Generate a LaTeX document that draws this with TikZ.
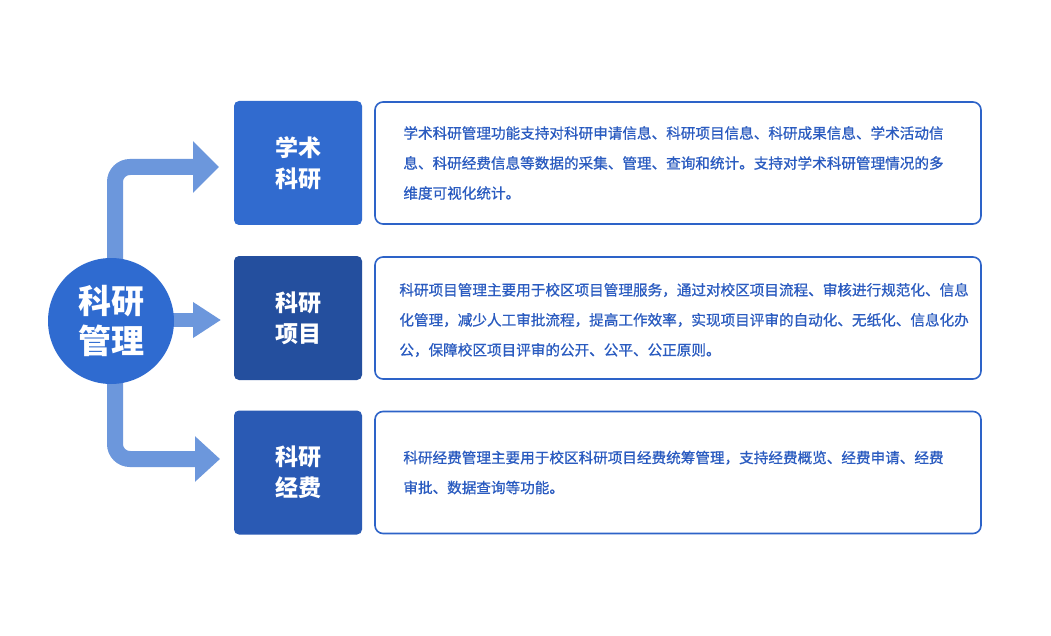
\documentclass[tikz,border=0pt]{standalone}
\usepackage{fontspec}
\usetikzlibrary{arrows.meta}
\newfontfamily\cjk{Noto Sans CJK SC}
\newfontfamily\cjkbody{Noto Sans CJK SC}[FakeBold=0.8]
\definecolor{circblue}{HTML}{2F6BD0}
\definecolor{boxA}{HTML}{316BCF}
\definecolor{boxB}{HTML}{244F9E}
\definecolor{boxC}{HTML}{2A5AB4}
\definecolor{arrowblue}{HTML}{6C97DC}
\definecolor{frameblue}{HTML}{2D63C8}
\definecolor{textblue}{HTML}{2A5BC0}
\pgfdeclarelayer{bg}
\pgfsetlayers{bg,main}
\begin{document}
\begin{tikzpicture}[x=1pt,y=-1pt,
  titlebox/.style={minimum width=128pt,minimum height=124pt,rounded corners=5pt,inner sep=0pt,text=white,font=\cjk\bfseries\fontsize{23}{31}\selectfont,align=center},
  descbox/.style={draw=frameblue,line width=1.6pt,rounded corners=8pt,fill=white,minimum width=606pt,minimum height=122pt,inner sep=0pt},
  desc/.style={text=textblue,font=\cjkbody\fontsize{14.6}{30}\selectfont,align=left,anchor=west,inner sep=0pt},
  shaft/.style={draw=arrowblue,line width=16pt,rounded corners=15pt}]
\useasboundingbox (0,0) rectangle (1051,636);

\node[circle,fill=circblue,minimum size=126pt,inner sep=0pt,text=white,font=\cjk\bfseries\fontsize{33}{40}\selectfont,align=center] (c) at (111,321) {科研\\管理};

\node[titlebox,fill=boxA] (tA) at (298,163) {学术\\科研};
\node[titlebox,fill=boxB] (tB) at (298,318) {科研\\项目};
\node[titlebox,fill=boxC] (tC) at (298,472.5) {科研\\经费};

\node[descbox] (bA) at (678,163) {};
\node[descbox] (bB) at (678,318) {};
\node[descbox] (bC) at (678,472.5) {};

\node[desc] (dA) at ([xshift=29pt]bA.west) {学术科研管理功能支持对科研申请信息、科研项目信息、科研成果信息、学术活动信\\息、科研经费信息等数据的采集、管理、查询和统计。支持对学术科研管理情况的多\\维度可视化统计。};
\node[desc] (dB) at ([xshift=25pt,yshift=-2pt]bB.west) {科研项目管理主要用于校区项目管理服务，通过对校区项目流程、审核进行规范化、信息\\化管理，减少人工审批流程，提高工作效率，实现项目评审的自动化、无纸化、信息化办\\公，保障校区项目评审的公开、公平、公正原则。};
\node[desc] (dC) at ([xshift=29pt]bC.west) {科研经费管理主要用于校区科研项目经费统筹管理，支持经费概览、经费申请、经费\\审批、数据查询等功能。};

\coordinate (tipA) at (219,167);
\coordinate (tipB) at (221,320);
\coordinate (tipC) at (220,459);
\begin{pgfonlayer}{bg}
\fill[white] (0,0) rectangle (1051,636);
\draw[shaft,-{Triangle[length=26pt,width=50pt]}] ([xshift=4pt]c.center) |- (tipA);
\draw[shaft,line width=14pt,-{Triangle[length=28pt,width=34pt]}] (c.center |- tipB) -- (tipB);
\draw[shaft,-{Triangle[length=25pt,width=44pt]}] ([xshift=4pt]c.center) |- (tipC);
\end{pgfonlayer}
\end{tikzpicture}
\end{document}
